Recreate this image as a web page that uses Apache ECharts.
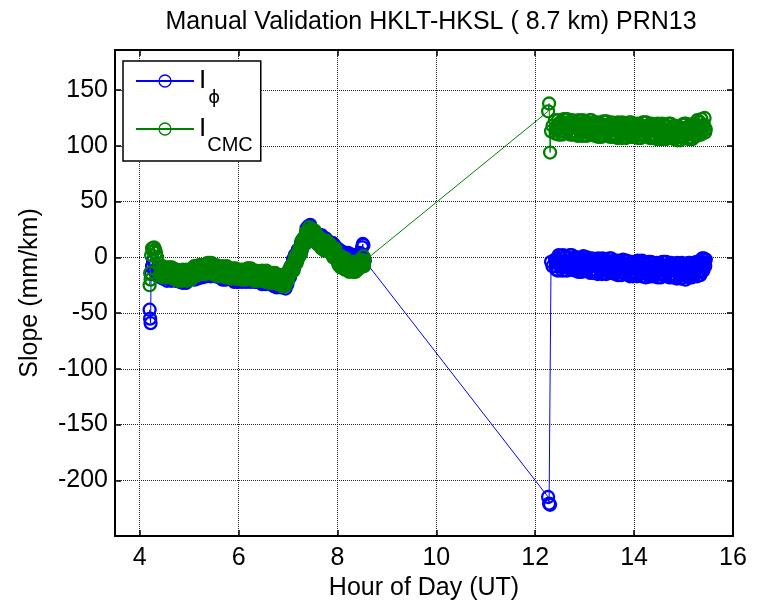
<!DOCTYPE html>
<html><head><meta charset="utf-8">
<script src="https://cdn.jsdelivr.net/npm/echarts@6/dist/echarts.min.js"></script>
<style>html,body{margin:0;padding:0;background:#fff}#c{width:758px;height:606px}</style>
</head><body><div id="c"></div>
<script>
const titleText = 'Manual Validation HKLT-HKSL ( 8.7 km) PRN13';
const xName = 'Hour of Day (UT)';
const yName = 'Slope (mm/km)';
const xTicks = [4, 6, 8, 10, 12, 14, 16];
const yTicks = [-200, -150, -100, -50, 0, 50, 100, 150];

// epochs (hour of day, UT) - first pass
const hours1 = [4.20, 4.21, 4.22, 4.23, 4.25, 4.27, 4.29, 4.31, 4.33, 4.35,
  4.400, 4.425, 4.450, 4.475, 4.500, 4.525, 4.550, 4.575,
  4.600, 4.625, 4.650, 4.675, 4.700, 4.725, 4.750, 4.775,
  4.800, 4.825, 4.850, 4.875, 4.900, 4.925, 4.950, 4.975,
  5.000, 5.025, 5.050, 5.075, 5.100, 5.125, 5.150, 5.175,
  5.200, 5.225, 5.250, 5.275, 5.300, 5.325, 5.350, 5.375,
  5.400, 5.425, 5.450, 5.475, 5.500, 5.525, 5.550, 5.575,
  5.600, 5.625, 5.650, 5.675, 5.700, 5.725, 5.750, 5.775,
  5.800, 5.825, 5.850, 5.875, 5.900, 5.925, 5.950, 5.975,
  6.000, 6.025, 6.050, 6.075, 6.100, 6.125, 6.150, 6.175,
  6.200, 6.225, 6.250, 6.275, 6.300, 6.325, 6.350, 6.375,
  6.400, 6.425, 6.450, 6.475, 6.500, 6.525, 6.550, 6.575,
  6.600, 6.625, 6.650, 6.675, 6.700, 6.725, 6.750, 6.775,
  6.800, 6.825, 6.850, 6.875, 6.900, 6.925, 6.950, 6.975,
  7.000, 7.025, 7.050, 7.075, 7.100, 7.125, 7.150, 7.175,
  7.200, 7.225, 7.250, 7.275, 7.300, 7.325, 7.350, 7.375,
  7.400, 7.425, 7.450, 7.475, 7.500, 7.525, 7.550, 7.575,
  7.600, 7.625, 7.650, 7.675, 7.700, 7.725, 7.750, 7.775,
  7.800, 7.825, 7.850, 7.875, 7.900, 7.925, 7.950, 7.975,
  8.000, 8.025, 8.050, 8.075, 8.100, 8.125, 8.150, 8.175,
  8.200, 8.225, 8.250, 8.275, 8.300, 8.325, 8.350, 8.375,
  8.400, 8.425, 8.450, 8.475, 8.500, 8.525, 8.550];
const hours2 = [12.26, 12.28, 12.30, 12.32, 12.35,
  12.400, 12.425, 12.450, 12.475, 12.500, 12.525, 12.550, 12.575,
  12.600, 12.625, 12.650, 12.675, 12.700, 12.725, 12.750, 12.775,
  12.800, 12.825, 12.850, 12.875, 12.900, 12.925, 12.950, 12.975,
  13.000, 13.025, 13.050, 13.075, 13.100, 13.125, 13.150, 13.175,
  13.200, 13.225, 13.250, 13.275, 13.300, 13.325, 13.350, 13.375,
  13.400, 13.425, 13.450, 13.475, 13.500, 13.525, 13.550, 13.575,
  13.600, 13.625, 13.650, 13.675, 13.700, 13.725, 13.750, 13.775,
  13.800, 13.825, 13.850, 13.875, 13.900, 13.925, 13.950, 13.975,
  14.000, 14.025, 14.050, 14.075, 14.100, 14.125, 14.150, 14.175,
  14.200, 14.225, 14.250, 14.275, 14.300, 14.325, 14.350, 14.375,
  14.400, 14.425, 14.450, 14.475, 14.500, 14.525, 14.550, 14.575,
  14.600, 14.625, 14.650, 14.675, 14.700, 14.725, 14.750, 14.775,
  14.800, 14.825, 14.850, 14.875, 14.900, 14.925, 14.950, 14.975,
  15.000, 15.025, 15.050, 15.075, 15.100, 15.125, 15.150, 15.175,
  15.200, 15.225, 15.250, 15.275, 15.300, 15.325, 15.350, 15.375,
  15.400, 15.425, 15.450];
// epochs - interleaved pass
const hours1b = [4.4125, 4.4375, 4.4625, 4.4875, 4.5125, 4.5375, 4.5625, 4.5875,
  4.6125, 4.6375, 4.6625, 4.6875, 4.7125, 4.7375, 4.7625, 4.7875,
  4.8125, 4.8375, 4.8625, 4.8875, 4.9125, 4.9375, 4.9625, 4.9875,
  5.0125, 5.0375, 5.0625, 5.0875, 5.1125, 5.1375, 5.1625, 5.1875,
  5.2125, 5.2375, 5.2625, 5.2875, 5.3125, 5.3375, 5.3625, 5.3875,
  5.4125, 5.4375, 5.4625, 5.4875, 5.5125, 5.5375, 5.5625, 5.5875,
  5.6125, 5.6375, 5.6625, 5.6875, 5.7125, 5.7375, 5.7625, 5.7875,
  5.8125, 5.8375, 5.8625, 5.8875, 5.9125, 5.9375, 5.9625, 5.9875,
  6.0125, 6.0375, 6.0625, 6.0875, 6.1125, 6.1375, 6.1625, 6.1875,
  6.2125, 6.2375, 6.2625, 6.2875, 6.3125, 6.3375, 6.3625, 6.3875,
  6.4125, 6.4375, 6.4625, 6.4875, 6.5125, 6.5375, 6.5625, 6.5875,
  6.6125, 6.6375, 6.6625, 6.6875, 6.7125, 6.7375, 6.7625, 6.7875,
  6.8125, 6.8375, 6.8625, 6.8875, 6.9125, 6.9375, 6.9625, 6.9875,
  7.0125, 7.0375, 7.0625, 7.0875, 7.1125, 7.1375, 7.1625, 7.1875,
  7.2125, 7.2375, 7.2625, 7.2875, 7.3125, 7.3375, 7.3625, 7.3875,
  7.4125, 7.4375, 7.4625, 7.4875, 7.5125, 7.5375, 7.5625, 7.5875,
  7.6125, 7.6375, 7.6625, 7.6875, 7.7125, 7.7375, 7.7625, 7.7875,
  7.8125, 7.8375, 7.8625, 7.8875, 7.9125, 7.9375, 7.9625, 7.9875,
  8.0125, 8.0375, 8.0625, 8.0875, 8.1125, 8.1375, 8.1625, 8.1875,
  8.2125, 8.2375, 8.2625, 8.2875, 8.3125, 8.3375, 8.3625, 8.3875,
  8.4125, 8.4375, 8.4625, 8.4875, 8.5125, 8.5375];
const hours2b = [12.4125, 12.4375, 12.4625, 12.4875, 12.5125, 12.5375, 12.5625, 12.5875,
  12.6125, 12.6375, 12.6625, 12.6875, 12.7125, 12.7375, 12.7625, 12.7875,
  12.8125, 12.8375, 12.8625, 12.8875, 12.9125, 12.9375, 12.9625, 12.9875,
  13.0125, 13.0375, 13.0625, 13.0875, 13.1125, 13.1375, 13.1625, 13.1875,
  13.2125, 13.2375, 13.2625, 13.2875, 13.3125, 13.3375, 13.3625, 13.3875,
  13.4125, 13.4375, 13.4625, 13.4875, 13.5125, 13.5375, 13.5625, 13.5875,
  13.6125, 13.6375, 13.6625, 13.6875, 13.7125, 13.7375, 13.7625, 13.7875,
  13.8125, 13.8375, 13.8625, 13.8875, 13.9125, 13.9375, 13.9625, 13.9875,
  14.0125, 14.0375, 14.0625, 14.0875, 14.1125, 14.1375, 14.1625, 14.1875,
  14.2125, 14.2375, 14.2625, 14.2875, 14.3125, 14.3375, 14.3625, 14.3875,
  14.4125, 14.4375, 14.4625, 14.4875, 14.5125, 14.5375, 14.5625, 14.5875,
  14.6125, 14.6375, 14.6625, 14.6875, 14.7125, 14.7375, 14.7625, 14.7875,
  14.8125, 14.8375, 14.8625, 14.8875, 14.9125, 14.9375, 14.9625, 14.9875,
  15.0125, 15.0375, 15.0625, 15.0875, 15.1125, 15.1375, 15.1625, 15.1875,
  15.2125, 15.2375, 15.2625, 15.2875, 15.3125, 15.3375, 15.3625, 15.3875,
  15.4125, 15.4375];

// I_phi slope (mm/km)
const phiSeg1 = [-47, -55, -59, -15, -8, -3, -12, -6, -14, -10,
  -11, -18, -14, -10, -17, -12, -21, -15,
  -17, -12, -19, -17, -12, -21, -15, -20,
  -14, -20, -17, -23, -15, -18, -21, -13,
  -20, -16, -11, -17, -19, -13, -10, -19,
  -11, -17, -13, -7, -14, -9, -17, -11,
  -13, -8, -15, -13, -8, -17, -11, -16,
  -10, -16, -13, -20, -12, -15, -18, -11,
  -19, -15, -11, -18, -21, -15, -13, -22,
  -15, -21, -17, -12, -19, -14, -22, -16,
  -18, -13, -20, -18, -13, -22, -16, -20,
  -14, -20, -17, -24, -16, -19, -22, -15,
  -23, -19, -15, -22, -25, -19, -17, -27,
  -20, -26, -22, -18, -25, -20, -28, -20,
  -18, -11, -15, -10, -2, -9, 0, -1,
  7, 4, 9, 6, 16, 16, 15, 26,
  20, 25, 29, 22, 17, 22, 23, 13,
  19, 12, 15, 20, 12, 16, 7, 13,
  10, 14, 6, 9, 13, 3, 8, 3,
  8, 1, 3, -3, 4, 0, -3, 4,
  -4, 0, 3, -3, -6, 0, 2, -7,
  2, -3, 4, -4, 9, 11, -3];
const phiSeg2 = [-215, -221, -222, -4, -8,
  -2, -11, -5, 2, -8, -1, -12, -4,
  -6, 1, -9, -5, 2, -11, -2, -8,
  0, -9, -5, -13, -2, -6, -10, 1,
  -11, -6, 0, -8, -13, -4, -1, -14,
  -5, -14, -8, -1, -11, -4, -15, -7,
  -9, -2, -12, -8, -1, -14, -5, -11,
  -3, -12, -8, -16, -5, -9, -13, -2,
  -14, -9, -3, -11, -16, -7, -4, -17,
  -7, -16, -10, -3, -13, -6, -17, -9,
  -12, -5, -15, -11, -4, -17, -8, -14,
  -5, -14, -10, -18, -7, -11, -15, -4,
  -15, -10, -4, -12, -17, -8, -5, -18,
  -9, -18, -12, -5, -15, -8, -19, -11,
  -14, -7, -17, -12, -5, -18, -9, -14,
  -5, -14, -9, -17, -5, -9, -13, -1,
  -12, -6, -2];
const phiSeg1b = [-15, -11, -19, -14, -11, -16, -11, -19,
  -15, -21, -13, -19, -17, -12, -21, -16,
  -22, -18, -14, -16, -21, -23, -17, -15,
  -12, -18, -18, -13, -20, -14, -14, -18,
  -15, -10, -18, -11, -8, -13, -7, -15,
  -11, -17, -9, -15, -13, -8, -17, -12,
  -18, -14, -10, -13, -18, -20, -14, -13,
  -11, -17, -18, -14, -22, -16, -17, -21,
  -19, -14, -22, -16, -13, -18, -12, -20,
  -16, -22, -14, -20, -18, -13, -22, -16,
  -22, -18, -14, -17, -22, -24, -18, -17,
  -15, -21, -22, -18, -26, -20, -21, -26,
  -24, -19, -27, -22, -19, -24, -18, -24,
  -15, -18, -8, -10, -6, 2, -5, 4,
  0, 7, 13, 14, 11, 12, 20, 25,
  28, 23, 21, 25, 16, 21, 19, 14,
  15, 19, 10, 15, 17, 12, 17, 8,
  11, 5, 12, 6, 7, 11, 1, 7,
  0, 3, 6, 3, -2, -5, 0, 2,
  4, -2, -4, 1, -7, -1, -2, -6,
  -3, 2, -5, 1, 12, -1];
const phiSeg2b = [-8, -1, -12, -4, 1, -6, 2, -9,
  -4, -12, -1, -8, -5, 2, -11, -2,
  -12, -6, 0, -3, -10, -13, -5, -2,
  0, -8, -10, -3, -14, -6, -7, -13,
  -11, -4, -15, -7, -2, -9, -1, -12,
  -7, -15, -4, -11, -8, -1, -14, -5,
  -15, -9, -3, -6, -13, -16, -8, -5,
  -3, -11, -13, -6, -17, -9, -10, -16,
  -13, -6, -17, -9, -4, -11, -3, -14,
  -10, -18, -7, -14, -11, -4, -17, -8,
  -17, -11, -5, -8, -15, -18, -10, -7,
  -4, -12, -14, -7, -18, -10, -11, -17,
  -15, -8, -19, -11, -6, -13, -5, -16,
  -12, -20, -9, -15, -12, -5, -18, -8,
  -17, -11, -4, -7, -13, -16, -8, -4,
  -1, -8];

// I_CMC slope (mm/km)
const cmcSeg1 = [-25, -14, -20, 2, 8, 5, 9, 7, 4, 0,
  -7, -14, -11, -18, -10, -13, -17, -9,
  -17, -13, -9, -16, -19, -13, -11, -21,
  -14, -20, -16, -11, -18, -13, -21, -15,
  -16, -11, -17, -14, -8, -17, -10, -14,
  -7, -13, -10, -15, -7, -10, -13, -5,
  -13, -9, -5, -12, -15, -9, -7, -17,
  -10, -16, -12, -8, -15, -10, -18, -13,
  -15, -10, -17, -15, -10, -19, -13, -17,
  -11, -17, -14, -20, -12, -15, -18, -10,
  -18, -14, -10, -17, -20, -14, -12, -21,
  -14, -20, -16, -12, -19, -14, -22, -17,
  -19, -14, -21, -19, -14, -23, -17, -22,
  -16, -22, -19, -26, -18, -21, -24, -14,
  -21, -15, -8, -12, -12, -4, 1, -5,
  4, 1, 7, 15, 10, 18, 12, 21,
  21, 27, 20, 22, 25, 15, 20, 15,
  19, 12, 14, 8, 15, 11, 7, 15,
  6, 9, 12, 6, 2, 7, 8, -2,
  0, -7, -4, 1, -7, -3, -11, -6,
  -9, -4, -12, -9, -4, -13, -7, -11,
  -8, -4, -9, -3, -8, 1, -3];
const cmcSeg2 = [131, 138, 94, 113, 118,
  123, 114, 118, 110, 121, 117, 113, 124,
  113, 118, 124, 116, 111, 120, 123, 110,
  119, 110, 116, 123, 113, 120, 109, 117,
  115, 122, 112, 116, 123, 110, 119, 113,
  121, 112, 116, 108, 119, 115, 111, 122,
  111, 116, 122, 114, 109, 118, 121, 108,
  117, 108, 114, 121, 111, 118, 107, 115,
  113, 120, 110, 114, 121, 108, 117, 111,
  120, 111, 115, 107, 118, 114, 110, 121,
  110, 115, 121, 113, 108, 117, 120, 107,
  116, 107, 113, 120, 110, 117, 106, 114,
  112, 119, 109, 113, 120, 107, 116, 110,
  118, 109, 113, 105, 116, 112, 108, 119,
  109, 114, 120, 112, 107, 116, 119, 106,
  118, 109, 116, 123, 113, 121, 110, 118,
  117, 125, 115];
const cmcSeg1b = [-15, -12, -8, -11, -16, -18, -13, -11,
  -9, -15, -16, -12, -20, -14, -15, -20,
  -18, -13, -21, -15, -12, -17, -11, -19,
  -14, -20, -11, -16, -13, -8, -16, -10,
  -15, -11, -7, -8, -13, -15, -9, -7,
  -5, -11, -12, -8, -16, -10, -11, -16,
  -14, -9, -17, -12, -9, -14, -8, -17,
  -13, -19, -11, -17, -15, -10, -19, -13,
  -19, -15, -11, -13, -18, -20, -14, -12,
  -10, -16, -17, -13, -21, -15, -16, -20,
  -18, -13, -21, -16, -13, -18, -12, -21,
  -17, -23, -15, -21, -19, -14, -23, -18,
  -24, -20, -16, -19, -24, -26, -20, -15,
  -12, -15, -14, -6, -12, -3, -2, -3,
  1, 9, 3, 12, 17, 15, 23, 18,
  23, 18, 25, 19, 20, 24, 14, 19,
  11, 14, 17, 14, 8, 6, 11, 12,
  13, 7, 5, 9, 0, 5, 3, -2,
  -5, 0, -9, -4, -1, -7, -1, -10,
  -7, -13, -6, -11, -9, -4, -13, -7,
  -11, -7, -2, -3, -7, -8];
const cmcSeg2b = [111, 117, 123, 120, 113, 110, 118, 121,
  124, 116, 114, 121, 110, 118, 117, 111,
  113, 120, 109, 117, 122, 115, 123, 112,
  117, 109, 120, 113, 116, 123, 110, 119,
  109, 115, 121, 118, 111, 108, 116, 119,
  122, 114, 112, 119, 108, 116, 115, 109,
  111, 118, 107, 115, 120, 113, 121, 110,
  115, 107, 118, 111, 114, 121, 108, 117,
  108, 114, 120, 117, 110, 107, 115, 118,
  121, 113, 111, 118, 107, 115, 114, 108,
  110, 117, 106, 114, 119, 112, 120, 109,
  114, 106, 117, 110, 113, 120, 107, 116,
  106, 112, 118, 115, 108, 105, 113, 116,
  120, 112, 110, 117, 106, 114, 113, 107,
  112, 119, 109, 117, 122, 116, 124, 113,
  119, 112];

function buildSeries(tLists, vLists) {
  const pts = [];
  tLists.forEach((ts, k) => ts.forEach((t, i) => {
    if (vLists[k][i] !== undefined) pts.push([t, vLists[k][i]]);
  }));
  pts.sort((a, b) => a[0] - b[0]);
  return pts;
}
const tLists = [hours1, hours2, hours1b, hours2b];
const phiData = buildSeries(tLists, [phiSeg1, phiSeg2, phiSeg1b, phiSeg2b]);
const cmcData = buildSeries(tLists, [cmcSeg1, cmcSeg2, cmcSeg1b, cmcSeg2b]);

const FONT = 'Liberation Sans, Arial, sans-serif';
const BLUE = '#0000ff', GREEN = '#008000';

function axisBase(extra) {
  return Object.assign({
    type: 'value',
    axisLine: { show: true, onZero: false, lineStyle: { color: '#000', width: 2 } },
    axisTick: { show: true, inside: true, length: 6, lineStyle: { color: '#000', width: 1.5 } },
    axisLabel: { show: false },
    splitLine: { show: false }
  }, extra);
}

const chart = echarts.init(document.getElementById('c'), null, { renderer: 'canvas' });
chart.setOption({
  animation: false,
  backgroundColor: '#fff',
  title: {
    text: titleText, left: 426, top: 5, textAlign: 'center',
    textStyle: { fontFamily: FONT, fontSize: 25, fontWeight: 'normal', color: '#000' }
  },
  legend: {
    orient: 'vertical', left: 123, top: 61,
    padding: [7, 8, 6, 12], itemGap: 9, itemWidth: 58, itemHeight: 15,
    backgroundColor: '#fff', borderColor: '#000', borderWidth: 1.5, borderRadius: 0,
    selectedMode: false,
    data: ['phi', 'cmc'],
    formatter: n => n === 'phi' ? '{m|I}{s|ϕ}' : '{m|I}{c|CMC}',
    itemStyle: { borderWidth: 1.3 },
    textStyle: {
      color: '#000', fontFamily: FONT,
      rich: {
        m: { fontSize: 26, lineHeight: 26, verticalAlign: 'top', fontFamily: FONT, color: '#000' },
        s: { fontSize: 18, lineHeight: 18, padding: [21, 0, 0, 2], verticalAlign: 'top', fontFamily: 'DejaVu Sans', color: '#000' },
        c: { fontSize: 20, lineHeight: 20, padding: [19, 0, 0, 1], verticalAlign: 'top', fontFamily: FONT, color: '#000' }
      }
    }
  },
  grid: { left: 115, right: 25, top: 50, bottom: 69 },
  xAxis: [
    axisBase({
      min: 3.5, max: 16, position: 'bottom',
      axisTick: { show: true, inside: true, length: 6, customValues: xTicks, lineStyle: { color: '#000', width: 1.5 } },
      axisLabel: { show: true, customValues: xTicks, margin: 10, fontFamily: FONT, fontSize: 25, color: '#000' },
      splitLine: { show: true, lineStyle: { color: '#222', type: [1, 1], width: 1 } },
      name: xName, nameLocation: 'middle', nameGap: 40,
      nameTextStyle: { fontFamily: FONT, fontSize: 25, color: '#000' }
    }),
    axisBase({
      min: 3.5, max: 16, position: 'top',
      axisTick: { show: true, inside: true, length: 6, customValues: xTicks, lineStyle: { color: '#000', width: 1.5 } }
    })
  ],
  yAxis: [
    axisBase({
      min: -250, max: 186, position: 'left',
      axisTick: { show: true, inside: true, length: 6, customValues: yTicks, lineStyle: { color: '#000', width: 1.5 } },
      axisLabel: { show: true, customValues: yTicks, margin: 7, fontFamily: FONT, fontSize: 25, color: '#000' },
      splitLine: { show: true, lineStyle: { color: '#222', type: [1, 1], width: 1 } },
      name: yName, nameLocation: 'middle', nameGap: 72, nameRotate: 90,
      nameTextStyle: { fontFamily: FONT, fontSize: 25, color: '#000' }
    }),
    axisBase({
      min: -250, max: 186, position: 'right',
      axisTick: { show: true, inside: true, length: 6, customValues: yTicks, lineStyle: { color: '#000', width: 1.5 } }
    })
  ],
  series: [
    {
      name: 'phi', type: 'line', xAxisIndex: 0, yAxisIndex: 0, data: phiData,
      symbol: 'circle', symbolSize: 12, showAllSymbol: true, clip: true,
      lineStyle: { color: BLUE, width: 1 },
      itemStyle: { color: 'rgba(0,0,255,0)', borderColor: BLUE, borderWidth: 2.3 },
      emphasis: { disabled: true }, z: 2
    },
    {
      name: 'cmc', type: 'line', xAxisIndex: 0, yAxisIndex: 0, data: cmcData,
      symbol: 'circle', symbolSize: 12, showAllSymbol: true, clip: true,
      lineStyle: { color: GREEN, width: 1 },
      itemStyle: { color: 'rgba(0,128,0,0)', borderColor: GREEN, borderWidth: 2.3 },
      emphasis: { disabled: true }, z: 3
    }
  ]
});
</script>
</body></html>
